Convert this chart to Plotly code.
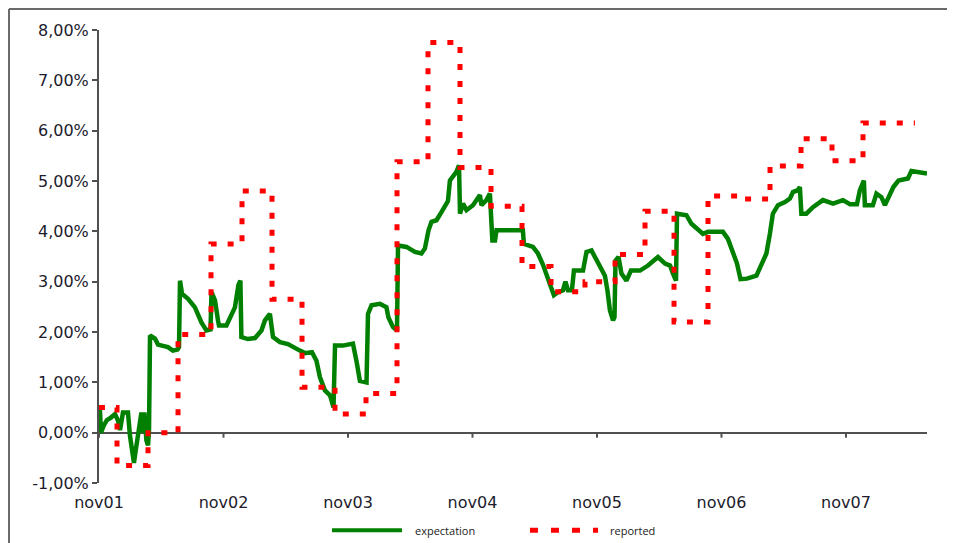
import plotly.graph_objects as go

# ---------------- data ----------------
# time axis in decimal years (nov01 = 2001 + 10/12)
tick_vals = [2001.8333, 2002.8333, 2003.8333, 2004.8333, 2005.8333, 2006.8333, 2007.8333]
tick_text = ["nov01", "nov02", "nov03", "nov04", "nov05", "nov06", "nov07"]
y_ticks = [-1, 0, 1, 2, 3, 4, 5, 6, 7, 8]
y_tick_text = ["-1,00%", "0,00%", "1,00%", "2,00%", "3,00%", "4,00%", "5,00%",
               "6,00%", "7,00%", "8,00%"]

exp_t = [2001.841, 2001.849, 2001.873, 2001.897, 2001.929, 2001.962, 2001.986, 2002.002,
         2002.026, 2002.066, 2002.082, 2002.106, 2002.114, 2002.126, 2002.146, 2002.162,
         2002.174, 2002.186, 2002.198, 2002.214, 2002.227, 2002.235, 2002.243, 2002.283,
         2002.307, 2002.339, 2002.387, 2002.427, 2002.464, 2002.476, 2002.484, 2002.500,
         2002.548, 2002.604, 2002.656, 2002.696, 2002.729, 2002.737, 2002.765, 2002.789,
         2002.797, 2002.857, 2002.885, 2002.925, 2002.953, 2002.969, 2002.977, 2003.030,
         2003.086, 2003.138, 2003.166, 2003.206, 2003.231, 2003.287, 2003.351, 2003.407,
         2003.447, 2003.488, 2003.544, 2003.580, 2003.608, 2003.648, 2003.689, 2003.717,
         2003.729, 2003.793, 2003.873, 2003.901, 2003.929, 2003.982, 2003.994, 2004.022,
         2004.090, 2004.142, 2004.158, 2004.194, 2004.227, 2004.235, 2004.303, 2004.371,
         2004.423, 2004.451, 2004.480, 2004.504, 2004.544, 2004.584, 2004.612, 2004.636,
         2004.652, 2004.676, 2004.704, 2004.725, 2004.733, 2004.757, 2004.785, 2004.837,
         2004.893, 2004.905, 2004.945, 2004.973, 2004.993, 2005.014, 2005.026, 2005.238,
         2005.246, 2005.319, 2005.359, 2005.399, 2005.439, 2005.467, 2005.487, 2005.520,
         2005.560, 2005.580, 2005.600, 2005.632, 2005.648, 2005.721, 2005.749, 2005.789,
         2005.817, 2005.857, 2005.897, 2005.917, 2005.937, 2005.962, 2005.974, 2005.982,
         2006.006, 2006.030, 2006.070, 2006.106, 2006.179, 2006.243, 2006.283, 2006.323,
         2006.380, 2006.420, 2006.444, 2006.468, 2006.476, 2006.552, 2006.592, 2006.633,
         2006.685, 2006.725, 2006.845, 2006.885, 2006.925, 2006.958, 2006.986, 2007.038,
         2007.114, 2007.154, 2007.194, 2007.222, 2007.246, 2007.287, 2007.343, 2007.383,
         2007.407, 2007.447, 2007.463, 2007.475, 2007.515, 2007.568, 2007.648, 2007.729,
         2007.809, 2007.865, 2007.921, 2007.945, 2007.977, 2007.985, 2008.049, 2008.078,
         2008.118, 2008.146, 2008.186, 2008.214, 2008.255, 2008.331, 2008.359, 2008.411,
         2008.484]
expectation = [0.45, 0.00, 0.15, 0.25, 0.30, 0.37, 0.24, 0.05,
               0.40, 0.40, -0.06, -0.52, -0.60, -0.39, -0.02, 0.30,
               0.40, 0.00, 0.40, -0.15, -0.25, 0.05, 1.93, 1.87,
               1.75, 1.73, 1.70, 1.63, 1.65, 1.70, 3.02, 2.76,
               2.66, 2.49, 2.19, 2.03, 2.05, 2.79, 2.63, 2.23,
               2.13, 2.13, 2.29, 2.49, 2.93, 3.02, 1.90, 1.86,
               1.88, 2.03, 2.23, 2.36, 1.90, 1.80, 1.76, 1.67,
               1.63, 1.58, 1.60, 1.43, 1.10, 0.84, 0.74, 0.50,
               1.73, 1.73, 1.77, 1.43, 1.03, 1.00, 2.36, 2.53,
               2.56, 2.49, 2.29, 2.10, 2.03, 3.72, 3.69, 3.59,
               3.56, 3.66, 4.02, 4.19, 4.22, 4.38, 4.52, 4.60,
               5.01, 5.08, 5.18, 5.31, 4.35, 4.55, 4.42, 4.52,
               4.72, 4.52, 4.62, 4.75, 3.82, 3.82, 4.02, 4.02,
               3.75, 3.69, 3.56, 3.34, 3.09, 2.89, 2.73, 2.79,
               2.83, 3.00, 2.83, 2.83, 3.22, 3.22, 3.59, 3.62,
               3.49, 3.29, 3.12, 2.83, 2.43, 2.23, 2.30, 3.42,
               3.49, 3.16, 3.02, 3.22, 3.22, 3.32, 3.42, 3.49,
               3.36, 3.32, 3.16, 3.02, 4.35, 4.32, 4.15, 4.05,
               3.95, 3.99, 3.99, 3.85, 3.56, 3.36, 3.05, 3.06,
               3.12, 3.36, 3.56, 3.95, 4.35, 4.52, 4.58, 4.65,
               4.78, 4.82, 4.88, 4.35, 4.35, 4.48, 4.62, 4.55,
               4.62, 4.54, 4.54, 4.82, 5.01, 4.52, 4.52, 4.75,
               4.68, 4.52, 4.72, 4.88, 5.01, 5.05, 5.20, 5.18,
               5.15]

rep_t = [2001.833, 2001.978, 2002.227, 2002.468, 2002.733, 2002.982, 2003.223, 2003.464,
         2003.729, 2003.978, 2004.227, 2004.476, 2004.733, 2004.982, 2005.231, 2005.464,
         2005.737, 2005.978, 2006.219, 2006.452, 2006.725, 2006.974, 2007.223, 2007.472,
         2007.721, 2007.970, 2008.387]
reported = [0.50, -0.65, 0.00, 1.95, 3.75, 4.80, 2.65, 0.90,
            0.37, 0.78, 5.38, 7.75, 5.27, 4.50, 3.30, 2.80,
            3.00, 3.54, 4.40, 2.20, 4.70, 4.64, 5.30, 5.84,
            5.40, 6.15, 6.15]

series_names = ["expectation", "reported"]

# ---------------- styles ----------------
GREEN = "#008000"
RED = "#ff0000"
AXIS = "#505050"
TXT = "#1c1c2c"

fig = go.Figure()
fig.add_trace(go.Scatter(x=exp_t, y=expectation, mode="lines", name=series_names[0],
                         line=dict(color=GREEN, width=4.5), showlegend=False))
fig.add_trace(go.Scatter(x=rep_t, y=reported, mode="lines", name=series_names[1],
                         line=dict(color=RED, width=5, dash="6px,11px", shape="hv"),
                         showlegend=False))

shapes = []
# tick marks on the zero line
for tv in tick_vals:
    shapes.append(dict(type="line", xref="x", yref="y", x0=tv, x1=tv,
                       ysizemode="pixel", yanchor=0, y0=0, y1=-5,
                       line=dict(color=AXIS, width=2)))
# outer frame (left and top)
shapes.append(dict(type="line", xref="paper", yref="paper", x0=-0.1087, x1=-0.1087,
                   y0=-0.2, y1=1.0464, line=dict(color="#6a6a6a", width=2)))
shapes.append(dict(type="line", xref="paper", yref="paper", x0=-0.1087, x1=1.1,
                   y0=1.0464, y1=1.0464, line=dict(color="#6a6a6a", width=2)))
# manual legend samples
shapes.append(dict(type="line", xref="paper", yref="paper", x0=0.2814, x1=0.3659,
                   y0=-0.1045, y1=-0.1045, line=dict(color=GREEN, width=4)))
shapes.append(dict(type="line", xref="paper", yref="paper", x0=0.5205, x1=0.6027,
                   y0=-0.1045, y1=-0.1045, line=dict(color=RED, width=5, dash="8px,13px")))

annotations = [
    dict(text=series_names[0], xref="paper", yref="paper", x=0.3792, y=-0.1045,
         xanchor="left", yanchor="middle", showarrow=False,
         font=dict(family="Open Sans", size=11, color="#222222")),
    dict(text=series_names[1], xref="paper", yref="paper", x=0.6147, y=-0.1045,
         xanchor="left", yanchor="middle", showarrow=False,
         font=dict(family="Open Sans", size=11, color="#222222")),
]

fig.update_layout(
    width=947, height=535,
    margin=dict(l=91, r=28, t=22, b=60),
    paper_bgcolor="white", plot_bgcolor="white",
    font=dict(family="DejaVu Sans", size=16, color=TXT),
    shapes=shapes, annotations=annotations,
    showlegend=False,
)
fig.update_xaxes(range=[2001.8333, 2008.484], tickvals=tick_vals, ticktext=tick_text,
                 showgrid=False, zeroline=False, showline=False, ticks="",
                 ticklabelstandoff=8, tickfont=dict(size=16, color=TXT))
fig.update_yaxes(range=[-1, 8], tickvals=y_ticks, ticktext=y_tick_text,
                 showgrid=False, zeroline=True, zerolinecolor=AXIS, zerolinewidth=2,
                 showline=True, linecolor=AXIS, linewidth=2, ticks="outside",
                 ticklen=5, tickwidth=2, tickcolor=AXIS, tickfont=dict(size=16, color=TXT))

fig.write_html("out.html")
